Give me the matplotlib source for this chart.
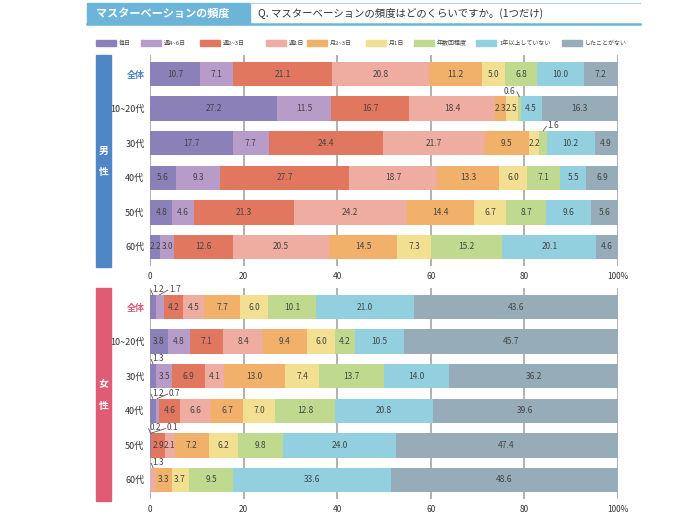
import matplotlib
matplotlib.use("Agg")
import matplotlib.pyplot as plt
from matplotlib.patches import Rectangle
from matplotlib.lines import Line2D

plt.rcParams['font.family'] = ['Noto Sans CJK JP', 'DejaVu Sans']

categories = ["毎日", "週4~6日", "週2~3日", "週1日", "月2~3日", "月1日",
              "年数回程度", "1年以上していない", "したことがない"]
colors = ["#8C80B9", "#B79BC8", "#E27760", "#EFACA0", "#F1B16A", "#F3DF92",
          "#BFD98F", "#92D0E0", "#97ACB9"]
rows = ["全体", "10~20代", "30代", "40代", "50代", "60代"]

male = [
    [10.7, 7.1, 21.1, 20.8, 11.2, 5.0, 6.8, 10.0, 7.2],
    [27.2, 11.5, 16.7, 18.4, 2.3, 2.5, 0.6, 4.5, 16.3],
    [17.7, 7.7, 24.4, 21.7, 9.5, 2.2, 1.6, 10.2, 4.9],
    [5.6, 9.3, 27.7, 18.7, 13.3, 6.0, 7.1, 5.5, 6.9],
    [4.8, 4.6, 21.3, 24.2, 14.4, 6.7, 8.7, 9.6, 5.6],
    [2.2, 3.0, 12.6, 20.5, 14.5, 7.3, 15.2, 20.1, 4.6],
]
female = [
    [1.2, 1.7, 4.2, 4.5, 7.7, 6.0, 10.1, 21.0, 43.6],
    [3.8, 4.8, 7.1, 8.4, 9.4, 6.0, 4.2, 10.5, 45.7],
    [1.3, 3.5, 6.9, 4.1, 13.0, 7.4, 13.7, 14.0, 36.2],
    [1.2, 0.7, 4.6, 6.6, 6.7, 7.0, 12.8, 20.8, 39.6],
    [0.2, 0.1, 2.9, 2.1, 7.2, 6.2, 9.8, 24.0, 47.4],
    [0.0, 0.0, 0.0, 1.3, 3.3, 3.7, 9.5, 33.6, 48.6],
]
xticks = [0, 20, 40, 60, 80, 100]
xticklabels = ["0", "20", "40", "60", "80", "100%"]

W, H = 700, 524
fig = plt.figure(figsize=(W / 100, H / 100), dpi=100)
BAR_H = 0.71


def fx(x):
    return x / W


def fy(y):
    return 1 - y / H


def panel(top_px, data, accent):
    ax = fig.add_axes([fx(150), fy(top_px + 211), fx(468), 211 / H])
    ax.set_xlim(0, 100)
    ax.set_ylim(5.55, -0.55)
    for g in xticks:
        ax.axvline(g, color="#ABABAB", lw=1.3, zorder=0)
    for i, vals in enumerate(data):
        left = 0.0
        prev_tx = -99
        for j, v in enumerate(vals):
            ax.barh(i, v, left=left, height=BAR_H, color=colors[j],
                    edgecolor="none", zorder=2)
            c = left + v / 2
            if v >= 2:
                ax.text(c, i, f"{v:.1f}", ha="center", va="center",
                        fontsize=6, color="#444444", zorder=3)
            elif v > 0:
                # small share: label above the bar with a leader line
                top = i - BAR_H / 2
                if c > 50:
                    tx = c + 2.2 if v > 1 else c - 2.0
                else:
                    tx = max(c + 1.1, prev_tx + 3.6)
                end = tx - 1.5 if tx > c else tx + 1.5
                ax.plot([c, end], [top, top - 0.13], color="#555555",
                        lw=0.6, zorder=3, clip_on=False)
                ax.text(tx, top - 0.02, f"{v:.1f}", ha="center", va="bottom",
                        fontsize=6, color="#444444", zorder=3)
                prev_tx = tx
            left += v
    ax.set_yticks(range(len(rows)))
    ax.set_yticklabels(rows, fontsize=6.5, color="#333333")
    lab = ax.get_yticklabels()[0]
    lab.set_color(accent)
    lab.set_fontweight("bold")
    ax.set_xticks(xticks)
    ax.set_xticklabels(xticklabels, fontsize=6, color="#333333")
    ax.tick_params(length=0, pad=4)
    for s in ax.spines.values():
        s.set_visible(False)
    return ax


panel(55, male, "#4F86C6")
panel(288, female, "#E05C74")

# side bars
for (y0, y1, col, chars) in [(55, 267, "#4F86C6", "男性"), (288, 501, "#E05C74", "女性")]:
    fig.patches.append(Rectangle((fx(96), fy(y1)), fx(15), (y1 - y0) / H,
                                 transform=fig.transFigure, color=col))
    mid = (y0 + y1) / 2
    fig.text(fx(103.5), fy(mid - 10), chars[0], color="white", fontsize=7,
             fontweight="bold", ha="center", va="center")
    fig.text(fx(103.5), fy(mid + 11), chars[1], color="white", fontsize=7,
             fontweight="bold", ha="center", va="center")

# title
fig.patches.append(Rectangle((fx(87), fy(24)), fx(163), 21 / H,
                             transform=fig.transFigure, color="#6CB4D8"))
fig.text(fx(96), fy(13.5), "マスターベーションの頻度", color="white", fontsize=8,
         fontweight="bold", ha="left", va="center")
fig.lines.append(Line2D([fx(250), fx(640)], [fy(3), fy(3)], color="#A8D4EA",
                        lw=0.8, transform=fig.transFigure))
fig.lines.append(Line2D([fx(87), fx(640)], [fy(24), fy(24)], color="#6CB4D8",
                        lw=1.8, transform=fig.transFigure))
fig.text(fx(258), fy(13.5), "Q. マスターベーションの頻度はどのくらいですか。(1つだけ)",
         color="#333333", fontsize=7.5, ha="left", va="center")

# legend
leg_x = [96, 141, 200, 266, 307, 366, 414, 476, 562]
for x, name, col in zip(leg_x, categories, colors):
    fig.patches.append(Rectangle((fx(x), fy(46)), fx(20), 6 / H,
                                 transform=fig.transFigure, color=col))
    fig.text(fx(x + 23), fy(43), name, fontsize=4.3, color="#444444",
             ha="left", va="center")

fig.savefig("out.png", dpi=100, facecolor="white")
